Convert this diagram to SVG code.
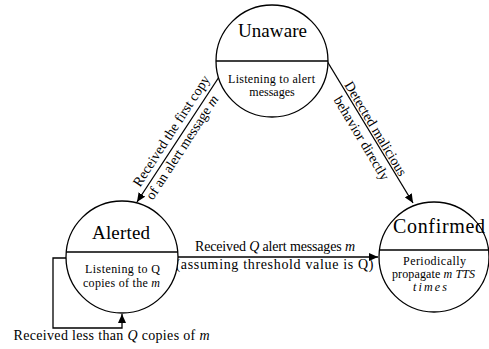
<svg xmlns="http://www.w3.org/2000/svg" width="489" height="349" viewBox="0 0 489 349">
<defs>
<style>
.c{fill:#fff;stroke:#000;stroke-width:1.3}
.d{stroke:#000;stroke-width:1.3;fill:none}
.e{stroke:#000;stroke-width:1.3;fill:none;marker-end:url(#ah)}
text{font-family:"Liberation Serif","Times New Roman",serif;fill:#000;text-anchor:middle}
.t{font-size:19px}
.s{font-size:12px}
.l{font-size:14px}
.i{font-style:italic}
</style>
<marker id="ah" markerUnits="userSpaceOnUse" markerWidth="10" markerHeight="8" refX="9" refY="4" orient="auto">
<path d="M0,0 L9,4 L0,8 z" fill="#000"/>
</marker>
</defs>
<rect width="489" height="349" fill="#fff"/>
<g id="connectors">
<line class="e" x1="219" y1="77" x2="137" y2="202"/>
<line class="e" x1="327" y1="61" x2="413" y2="203"/>
<line class="e" x1="178" y1="257" x2="378" y2="257"/>
<path class="e" d="M66,258 H53 V328 H122 V314"/>
<g transform="translate(178,140) rotate(-57)">
<text class="l" x="4" y="-6">Received the first copy</text>
<text class="l" x="-4" y="12">of an alert message <tspan class="i">m</tspan></text>
</g>
<g transform="translate(370,132) rotate(59)">
<text class="l" x="0" y="-2">Detected malicious</text>
<text class="l" x="1" y="15">behavior directly</text>
</g>
<text class="l" x="275" y="251" textLength="160">Received <tspan class="i">Q</tspan> alert messages <tspan class="i">m</tspan></text>
<text class="l" x="274.5" y="269" textLength="198">(assuming threshold value is Q)</text>
<text class="l" x="111.5" y="340" textLength="196">Received less than <tspan class="i">Q</tspan> copies of <tspan class="i">m</tspan></text>
</g>
<g id="unaware">
<circle class="c" cx="272" cy="61" r="56"/>
<line class="d" x1="216" y1="61" x2="328" y2="61"/>
<text class="t" x="272.5" y="37" textLength="69">Unaware</text>
<text class="s" x="271.5" y="83" textLength="87">Listening to alert</text>
<text class="s" x="272" y="96">messages</text>
</g>
<g id="alerted">
<circle class="c" cx="122" cy="257" r="56"/>
<line class="d" x1="66.2" y1="252" x2="177.8" y2="252"/>
<text class="t" x="121" y="239" textLength="58">Alerted</text>
<text class="s" x="122.5" y="273" textLength="75">Listening to Q</text>
<text class="s" x="121.5" y="287" textLength="77">copies of the <tspan class="i">m</tspan></text>
</g>
<g id="confirmed">
<circle class="c" cx="434" cy="257" r="55"/>
<line class="d" x1="379.4" y1="250" x2="488.6" y2="250"/>
<text class="t" x="439" y="233" textLength="92" style="font-size:20px">Confirmed</text>
<text class="s" x="434.5" y="265" textLength="63">Periodically</text>
<text class="s" x="433.5" y="278" textLength="83">propagate <tspan class="i">m TTS</tspan></text>
<text class="s i" x="430" y="291" textLength="34">times</text>
</g>
</svg>
